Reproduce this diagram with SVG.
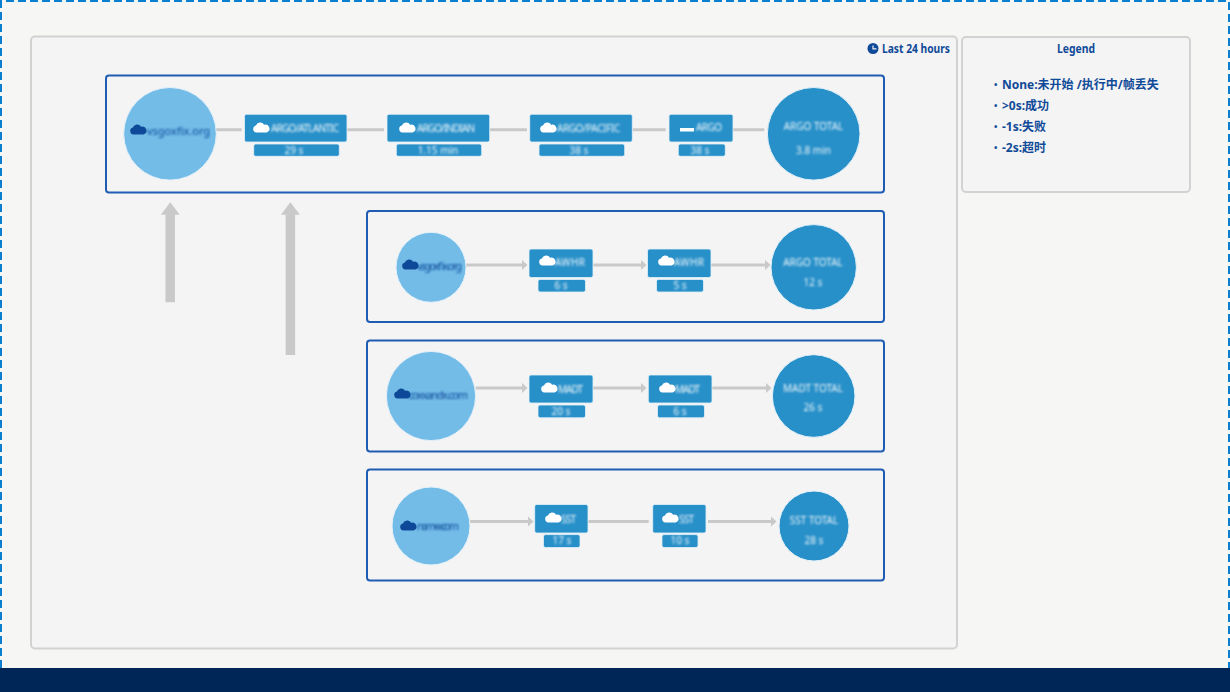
<svg xmlns="http://www.w3.org/2000/svg" width="1230" height="692" viewBox="0 0 1230 692">
<style>
.panel{fill:#f4f4f4;stroke:#d2d2d2;stroke-width:2}
.group{fill:#f4f4f4;stroke:#1f5cb4;stroke-width:2}
.src{fill:#74bce8;stroke:#e4f1f9;stroke-width:1}
.tot{fill:#2890c9;stroke:#e4f1f9;stroke-width:1}
.box{fill:#2890c9;stroke:#e4f1f9;stroke-width:.8}
.conn{fill:none;stroke:#c9c9c9;stroke-width:3}
.up{fill:none;stroke:#c9c9c9;stroke-width:9.5}
text{font-family:"Noto Sans","Noto Sans CJK SC","Liberation Sans",sans-serif}
.lg{fill:#0f4a98;font-size:12px;font-weight:700}
.bu{fill:#0f4a98;font-size:9px;font-weight:700}
.w{fill:#fff;font-size:10px;text-anchor:middle;filter:url(#b);opacity:.9}
.wl{fill:#fff;font-size:10px;filter:url(#b);opacity:.9}
.d{fill:#0f4a98;font-size:11px;filter:url(#b)}
.cw{fill:#fff;filter:url(#b2)}
.cd{fill:#0f4a98;filter:url(#b2)}
</style>
<defs>
<filter id="b" x="-20%" y="-50%" width="140%" height="200%"><feGaussianBlur stdDeviation="0.9"/></filter>
<filter id="b2" x="-20%" y="-30%" width="140%" height="160%"><feGaussianBlur stdDeviation="0.35"/></filter>
<marker id="ah" markerUnits="userSpaceOnUse" markerWidth="8" markerHeight="12" refX="0.5" refY="5.5" orient="auto"><path d="M0 0L6 5.5L0 11Z" fill="#c9c9c9"/></marker>
<marker id="uh" markerUnits="userSpaceOnUse" markerWidth="14" markerHeight="20" refX="0.5" refY="9.5" orient="auto"><path d="M0 0L12.500 9.500L0 19Z" fill="#c9c9c9"/></marker>
<path id="cl" d="M3.400 10.500a3.500 3.500 0 0 1-.5-6.900A4.500 4.500 0 0 1 11.100 2.800a3.800 3.800 0 0 1 2.600 7.700Z"/>
</defs>
<rect width="1230" height="692" fill="#f6f6f4"/>
<rect x="0" y="668" width="1230" height="24" fill="#002657"/>
<path d="M1 668V1H1229V668" fill="none" stroke="#0a7fd0" stroke-width="2" stroke-dasharray="8 4"/>
<rect class="panel" x="31" y="36.500" width="926" height="612" rx="4"/>
<rect class="panel" x="962" y="37" width="228" height="155" rx="4"/>
<g id="time">
<circle cx="873" cy="48.500" r="5.500" fill="#0f4a98"/><path d="M873 45.500V48.800H876.500" fill="none" stroke="#f4f4f4" stroke-width="1.200"/>
<text class="lg" x="882" y="53" textLength="68" lengthAdjust="spacingAndGlyphs">Last 24 hours</text>
</g>
<g id="legend">
<text class="lg" x="1057" y="53" textLength="38" lengthAdjust="spacingAndGlyphs">Legend</text>
<text class="bu" x="994" y="88">•</text><text class="lg" x="1002" y="89">None:未开始 /执行中/帧丢失</text>
<text class="bu" x="994" y="109">•</text><text class="lg" x="1002" y="110">&gt;0s:成功</text>
<text class="bu" x="994" y="130">•</text><text class="lg" x="1002" y="131">-1s:失败</text>
<text class="bu" x="994" y="151">•</text><text class="lg" x="1002" y="152">-2s:超时</text>
</g>
<rect class="group" x="106" y="75.500" width="778" height="117" rx="3"/>
<rect class="group" x="367" y="211" width="517" height="111" rx="3"/>
<rect class="group" x="367" y="340.500" width="517" height="111" rx="3"/>
<rect class="group" x="367" y="469.500" width="517" height="111" rx="3"/>
<g id="connectors">
<path class="conn" d="M216 129.700H241.700M347 129.700H384M489.700 129.700H527M632.700 129.700H665.700M733 129.700H764.300"/>
<line class="up" x1="170.200" y1="302.300" x2="170.200" y2="214.300" marker-end="url(#uh)"/>
<line class="up" x1="290.400" y1="355" x2="290.400" y2="214.300" marker-end="url(#uh)"/>
<line class="conn" x1="466" y1="265" x2="522" y2="265" marker-end="url(#ah)"/>
<line class="conn" x1="593" y1="265" x2="641" y2="265" marker-end="url(#ah)"/>
<line class="conn" x1="711" y1="265" x2="765" y2="265" marker-end="url(#ah)"/>
<line class="conn" x1="475.600" y1="388" x2="522" y2="388" marker-end="url(#ah)"/>
<line class="conn" x1="593" y1="388" x2="641" y2="388" marker-end="url(#ah)"/>
<line class="conn" x1="712" y1="388" x2="766" y2="388" marker-end="url(#ah)"/>
<line class="conn" x1="470" y1="521.500" x2="528" y2="521.500" marker-end="url(#ah)"/>
<line class="conn" x1="588" y1="521.500" x2="648.700" y2="521.500"/>
<line class="conn" x1="708" y1="521.500" x2="771" y2="521.500" marker-end="url(#ah)"/>
</g>
<g id="n1-src"><circle class="src" cx="170" cy="133.800" r="46.300"/><use href="#cl" class="cd" x="130" y="124"/><text class="d" x="147" y="135">vsgoxfix.org</text></g>
<g id="n1-a"><rect class="box" x="244.500" y="114.300" width="102.500" height="27.700" rx="2"/><use href="#cl" class="cw" x="253" y="122"/><text class="wl" x="271" y="132" textLength="68">ARGO/ATLANTIC</text><rect class="box" x="253.700" y="144" width="85.600" height="12.300" rx="2"/><text class="w" x="294" y="154">29 s</text></g>
<g id="n1-b"><rect class="box" x="387" y="114.300" width="102.700" height="27.700" rx="2"/><use href="#cl" class="cw" x="399" y="122"/><text class="wl" x="417" y="132" textLength="58">ARGO/INDIAN</text><rect class="box" x="396.300" y="144" width="85.400" height="12.300" rx="2"/><text class="w" x="438" y="154">1.15 min</text></g>
<g id="n1-c"><rect class="box" x="529.700" y="114.300" width="102.600" height="27.700" rx="2"/><use href="#cl" class="cw" x="540" y="122"/><text class="wl" x="557" y="132" textLength="63">ARGO/PACIFIC</text><rect class="box" x="539" y="144" width="85.700" height="12.300" rx="2"/><text class="w" x="579" y="154">38 s</text></g>
<g id="n1-d"><rect class="box" x="669" y="114.300" width="64" height="27.700" rx="2"/><rect x="680" y="128" width="14" height="3.500" fill="#fff" filter="url(#b2)"/><text class="wl" x="696" y="131" textLength="26">ARGO</text><rect class="box" x="678.300" y="144" width="47" height="12.300" rx="2"/><text class="w" x="700" y="154">38 s</text></g>
<g id="n1-total"><circle class="tot" cx="813.700" cy="133.800" r="46.300"/><text class="w" x="813.500" y="130">ARGO TOTAL</text><text class="w" x="813.500" y="154">3.8 min</text></g>

<g id="n2-src"><circle class="src" cx="431" cy="267.300" r="35"/><use href="#cl" class="cd" x="402" y="259"/><text class="d" x="417" y="270" textLength="45">vsgoxfix.org</text></g>
<g id="n2-a"><rect class="box" x="529" y="249" width="64" height="28.500" rx="2"/><use href="#cl" class="cw" x="539" y="255"/><text class="wl" x="555" y="266" textLength="30">AWHR</text><rect class="box" x="538" y="279.400" width="47.500" height="12.600" rx="2"/><text class="w" x="561" y="289">6 s</text></g>
<g id="n2-b"><rect class="box" x="647.500" y="249" width="63.500" height="28.500" rx="2"/><use href="#cl" class="cw" x="658" y="255"/><text class="wl" x="674" y="266" textLength="30">AWHR</text><rect class="box" x="656.500" y="279.400" width="47" height="12.600" rx="2"/><text class="w" x="680" y="289">5 s</text></g>
<g id="n2-total"><circle class="tot" cx="813.700" cy="267.300" r="42.700"/><text class="w" x="813" y="266">ARGO TOTAL</text><text class="w" x="813" y="286">12 s</text></g>

<g id="n3-src"><circle class="src" cx="431" cy="396" r="44.600"/><use href="#cl" class="cd" x="394" y="388"/><text class="d" x="408" y="399" textLength="60">coxxandx.com</text></g>
<g id="n3-a"><rect class="box" x="529" y="375" width="64" height="28" rx="2"/><use href="#cl" class="cw" x="541" y="382"/><text class="wl" x="558" y="393" textLength="25">MADT</text><rect class="box" x="538" y="405" width="47.500" height="12.800" rx="2"/><text class="w" x="561" y="415">20 s</text></g>
<g id="n3-b"><rect class="box" x="648.300" y="375" width="63.700" height="28" rx="2"/><use href="#cl" class="cw" x="659" y="382"/><text class="wl" x="675" y="393" textLength="25">MADT</text><rect class="box" x="657.500" y="405" width="47" height="12.800" rx="2"/><text class="w" x="680" y="415">6 s</text></g>
<g id="n3-total"><circle class="tot" cx="813.700" cy="396" r="41.300"/><text class="w" x="813" y="392">MADT  TOTAL</text><text class="w" x="813" y="411">26 s</text></g>

<g id="n4-src"><circle class="src" cx="431" cy="526" r="39"/><use href="#cl" class="cd" x="400" y="520"/><text class="d" x="417" y="530" textLength="42">namxx.com</text></g>
<g id="n4-a"><rect class="box" x="534.700" y="504.500" width="53.300" height="28.500" rx="2"/><use href="#cl" class="cw" x="545" y="512"/><text class="wl" x="561" y="523" textLength="15">SST</text><rect class="box" x="543.500" y="534.600" width="36.500" height="12.900" rx="2"/><text class="w" x="562" y="544">17 s</text></g>
<g id="n4-b"><rect class="box" x="652.700" y="504.500" width="53.300" height="28.500" rx="2"/><use href="#cl" class="cw" x="662" y="512"/><text class="wl" x="679" y="523" textLength="15">SST</text><rect class="box" x="662" y="534.600" width="36" height="12.900" rx="2"/><text class="w" x="680" y="544">10 s</text></g>
<g id="n4-total"><circle class="tot" cx="814" cy="526" r="35"/><text class="w" x="814" y="524">SST  TOTAL</text><text class="w" x="814" y="544">28 s</text></g>
</svg>
